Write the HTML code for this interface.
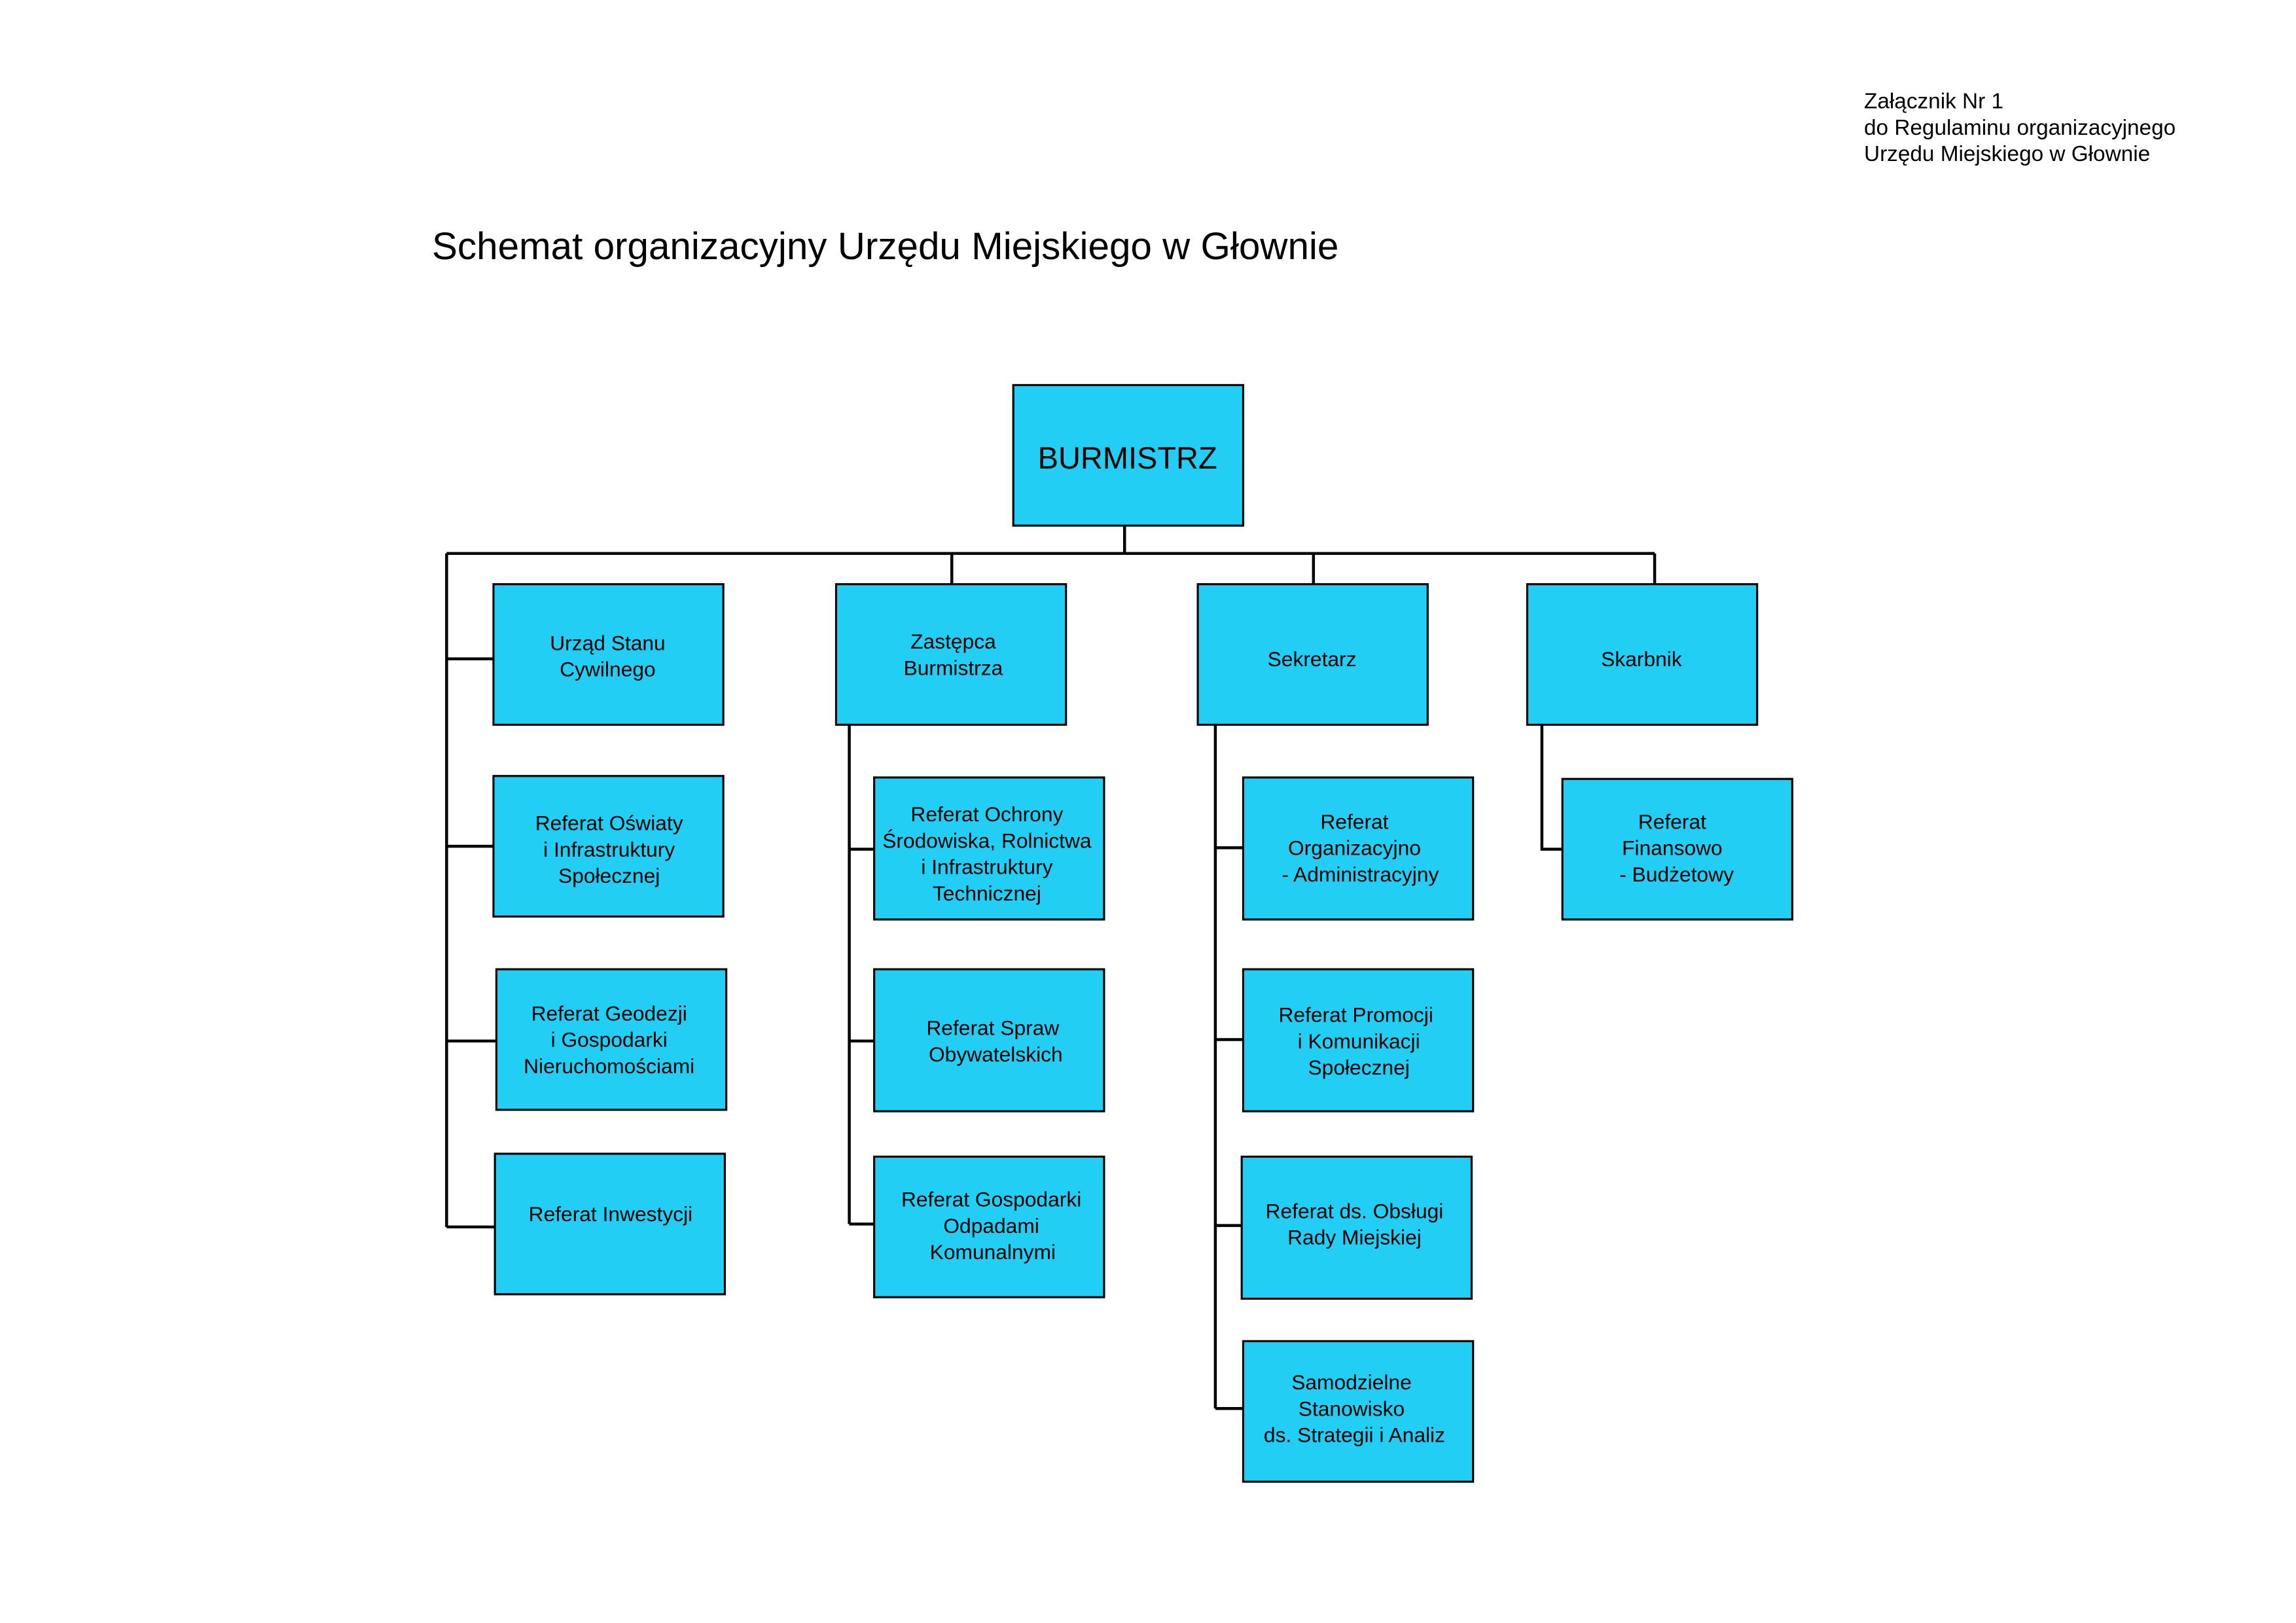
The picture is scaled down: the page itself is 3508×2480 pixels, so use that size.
<!DOCTYPE html>
<html><head><meta charset="utf-8"><style>
html,body{margin:0;padding:0;background:#fff;}
svg{display:block;}
text{font-family:"Liberation Sans",Arial,sans-serif;fill:#000;}
.b{fill:#22cef3;stroke:#000;stroke-width:1.4;}
.l{stroke:#000;stroke-width:2;fill:none;}
.t{font-size:14.2px;text-anchor:middle;}
</style></head><body>
<svg width="3508" height="2480" viewBox="0 0 1568 1108.5" xmlns="http://www.w3.org/2000/svg">
<text x="1273" y="74" font-size="14.9">Załącznik Nr 1</text>
<text x="1273" y="92" font-size="14.9">do Regulaminu organizacyjnego</text>
<text x="1273" y="110" font-size="14.9">Urzędu Miejskiego w Głownie</text>
<text x="295" y="177" font-size="26.1">Schemat organizacyjny Urzędu Miejskiego w Głownie</text>

<path class="l" d="M768 359V378M305 378H1130M650 378V399M897 378V399M1130 378V399"/>
<path class="l" d="M305 378V838M305 450H337M305 578H337M305 711H339M305 838H338"/>
<path class="l" d="M580 495V836M580 580H597M580 711H597M580 836H597"/>
<path class="l" d="M830 495V962M830 579H849M830 710H849M830 837H848M830 962H849"/>
<path class="l" d="M1053 495V580H1067"/>

<rect class="b" x="692" y="263" width="157" height="96"/>
<text x="770" y="320" font-size="21" text-anchor="middle">BURMISTRZ</text>

<rect class="b" x="337" y="399" width="157" height="96"/>
<text class="t" x="415" y="444">Urząd Stanu</text><text class="t" x="415" y="462">Cywilnego</text>
<rect class="b" x="571" y="399" width="157" height="96"/>
<text class="t" x="651" y="443">Zastępca</text><text class="t" x="651" y="461">Burmistrza</text>
<rect class="b" x="818" y="399" width="157" height="96"/>
<text class="t" x="896" y="455">Sekretarz</text>
<rect class="b" x="1043" y="399" width="157" height="96"/>
<text class="t" x="1121" y="455">Skarbnik</text>

<rect class="b" x="337" y="530" width="157" height="96"/>
<text class="t" x="416" y="567">Referat Oświaty</text><text class="t" x="416" y="585">i Infrastruktury</text><text class="t" x="416" y="603">Społecznej</text>
<rect class="b" x="339" y="662" width="157" height="96"/>
<text class="t" x="416" y="697">Referat Geodezji</text><text class="t" x="416" y="715">i Gospodarki</text><text class="t" x="416" y="733">Nieruchomościami</text>
<rect class="b" x="338" y="788" width="157" height="96"/>
<text class="t" x="417" y="834">Referat Inwestycji</text>

<rect class="b" x="597" y="531" width="157" height="97"/>
<text class="t" x="674" y="561">Referat Ochrony</text><text class="t" x="674" y="579">Środowiska, Rolnictwa</text><text class="t" x="674" y="597">i Infrastruktury</text><text class="t" x="674" y="615">Technicznej</text>
<rect class="b" x="597" y="662" width="157" height="97"/>
<text class="t" x="678" y="707">Referat Spraw</text><text class="t" x="680" y="725">Obywatelskich</text>
<rect class="b" x="597" y="790" width="157" height="96"/>
<text class="t" x="677" y="824">Referat Gospodarki</text><text class="t" x="677" y="842">Odpadami</text><text class="t" x="678" y="860">Komunalnymi</text>

<rect class="b" x="849" y="531" width="157" height="97"/>
<text class="t" x="925" y="566">Referat</text><text class="t" x="925" y="584">Organizacyjno</text><text class="t" x="929" y="602">- Administracyjny</text>
<rect class="b" x="849" y="662" width="157" height="97"/>
<text class="t" x="926" y="698">Referat Promocji</text><text class="t" x="928" y="716">i Komunikacji</text><text class="t" x="928" y="734">Społecznej</text>
<rect class="b" x="848" y="790" width="157" height="97"/>
<text class="t" x="925" y="832">Referat ds. Obsługi</text><text class="t" x="925" y="850">Rady Miejskiej</text>
<rect class="b" x="849" y="916" width="157" height="96"/>
<text class="t" x="923" y="949">Samodzielne</text><text class="t" x="923" y="967">Stanowisko</text><text class="t" x="925" y="985">ds. Strategii i Analiz</text>

<rect class="b" x="1067" y="532" width="157" height="96"/>
<text class="t" x="1142" y="566">Referat</text><text class="t" x="1142" y="584">Finansowo</text><text class="t" x="1145" y="602">- Budżetowy</text>
</svg>
</body></html>
